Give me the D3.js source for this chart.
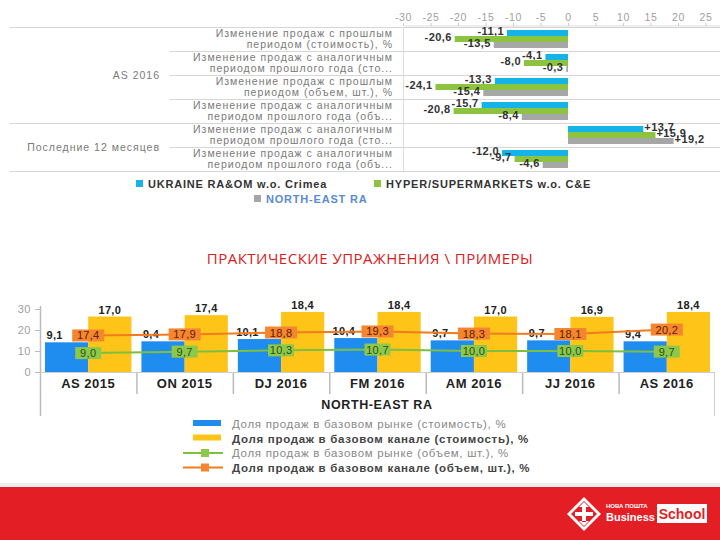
<!DOCTYPE html>
<meta charset="utf-8">
<style>
body { margin: 0; background: #fff; }
svg { font-family: "Liberation Sans", Arial, sans-serif; display: block; }
.rowlab { fill: #7a7a7a; font-size: 10.5px; letter-spacing: 1px; }
.vlab { fill: #333; font-size: 11px; font-weight: bold; letter-spacing: 0.4px; }
.tick text { fill: #a0a0a0; }
</style>
<svg width="720" height="540"></svg>
<script src="https://d3js.org/d3.v7.min.js"></script>
<script>

// top chart data
var rowLabels = [
  ["Изменение продаж с прошлым", "периодом (стоимость), %"],
  ["Изменение продаж с аналогичным", "периодом прошлого года (сто..."],
  ["Изменение продаж с прошлым", "периодом (объем, шт.), %"],
  ["Изменение продаж с аналогичным", "периодом прошлого года (объ..."],
  ["Изменение продаж с аналогичным", "периодом прошлого года (сто..."],
  ["Изменение продаж с аналогичным", "периодом прошлого года (объ..."]
];
var groups = [{name: "AS 2016", from: 0, to: 4}, {name: "Последние 12 месяцев", from: 4, to: 6}];
var ukraine = [-11.1, -4.1, -13.3, -15.7, 13.7, -12.0];
var hyper = [-20.6, -8.0, -24.1, -20.8, 15.9, -9.7];
var northEast = [-13.5, -0.3, -15.4, -8.4, 19.2, -4.6];
var topSeries = ["UKRAINE RA&OM w.o. Crimea", "HYPER/SUPERMARKETS w.o. C&E", "NORTH-EAST RA"];
var topColors = ["#14b4ea", "#8cc43f", "#a6a6a6"];

// bottom chart data
var periods = ["AS 2015", "ON 2015", "DJ 2016", "FM 2016", "AM 2016", "JJ 2016", "AS 2016"];
var marketValue = [9.1, 9.4, 10.1, 10.4, 9.7, 9.7, 9.4];
var channelValue = [17.0, 17.4, 18.4, 18.4, 17.0, 16.9, 18.4];
var marketVolume = [9.0, 9.7, 10.3, 10.7, 10.0, 10.0, 9.7];
var channelVolume = [17.4, 17.9, 18.8, 19.3, 18.3, 18.1, 20.2];
var bottomLegend = [
  "Доля продаж в базовом рынке (стоимость), %",
  "Доля продаж в базовом канале (стоимость), %",
  "Доля продаж в базовом рынке (объем, шт.), %",
  "Доля продаж в базовом канале (объем, шт.), %"
];

var svg = d3.select("svg");
var loc = d3.formatLocale({decimal: ",", thousands: " ", grouping: [3], currency: ["", ""], minus: "-"});
var fmt = loc.format("+.1f");
var fmt1 = loc.format(".1f");

// ---------- top chart ----------
var x = d3.scaleLinear().domain([-30, 25]).range([403, 705.5]);
var y = d3.scaleBand().domain(d3.range(6)).range([27, 171]);
var yIn = d3.scaleBand().domain([0, 1, 2]).range([3, 21]);

var topG = svg.append("g");

topG.append("g")
    .attr("transform", "translate(0,26)")
    .call(d3.axisTop(x).tickValues(d3.range(-30, 26, 5)).tickSize(3).tickFormat(loc.format("d")))
    .call(g => g.select(".domain").attr("stroke", "#ddd").attr("d", "M404,0H720"))
    .call(g => g.selectAll(".tick line").attr("stroke", "#ccc"))
    .call(g => g.selectAll("text").attr("font-size", 10.5).attr("letter-spacing", 0.6).attr("dy", "0.1em"));

// row separators
topG.selectAll(".sep").data(d3.range(7)).enter().append("line")
    .attr("x1", i => (i == 0 || i == 4 || i == 6) ? 10 : 170)
    .attr("x2", 720)
    .attr("y1", i => (i < 6 ? y(i) : y.range()[1]) + 0.5)
    .attr("y2", i => (i < 6 ? y(i) : y.range()[1]) + 0.5)
    .attr("stroke", "#d6d6d6");

topG.append("line").attr("x1", 403.5).attr("x2", 403.5).attr("y1", 27).attr("y2", 171).attr("stroke", "#ddd");

// row labels
var rl = topG.selectAll(".rowlab").data(rowLabels).enter().append("text")
    .attr("class", "rowlab").attr("text-anchor", "end")
    .attr("x", 393).attr("y", (d, i) => y(i) + 10);
rl.append("tspan").attr("x", 393).text(d => d[0]);
rl.append("tspan").attr("x", 393).attr("dy", 11).text(d => d[1]);

// group labels
topG.selectAll(".grp").data(groups).enter().append("text")
    .attr("class", "rowlab").attr("text-anchor", "end").attr("x", 160)
    .attr("y", d => (y(d.from) + y(d.to - 1) + y.bandwidth()) / 2 + 4)
    .text(d => d.name);

var series = [ukraine, hyper, northEast];
series.forEach(function(vals, s) {
  topG.selectAll(".bar" + s).data(vals).enter().append("rect")
      .attr("x", v => x(Math.min(0, v)))
      .attr("width", v => Math.max(1, Math.abs(x(v) - x(0))))
      .attr("y", (v, i) => y(i) + yIn(s))
      .attr("height", yIn.bandwidth())
      .attr("fill", topColors[s]);
  topG.selectAll(".lab" + s).data(vals).enter().append("text")
      .attr("class", "vlab")
      .attr("text-anchor", v => v < 0 ? "end" : "start")
      .attr("x", v => v < 0 ? x(v) - 3 : x(v) + 1)
      .attr("y", (v, i) => y(i) + yIn(s) + yIn.bandwidth() / 2 + 2)
      .text(fmt);
});

// top legend
var tl = [{x: 136, y: 188, i: 0}, {x: 374, y: 188, i: 1}, {x: 254, y: 203, i: 2}];
tl.forEach(function(d) {
  svg.append("rect").attr("x", d.x).attr("y", d.y - 8).attr("width", 7).attr("height", 7).attr("fill", topColors[d.i]);
  svg.append("text").attr("x", d.x + 12).attr("y", d.y)
      .attr("font-size", 11).attr("font-weight", "bold").attr("letter-spacing", 0.8)
      .attr("fill", d.i == 2 ? "#5b8bd0" : "#333")
      .text(topSeries[d.i]);
});

// title
svg.append("text").attr("x", 370).attr("y", 264).attr("text-anchor", "middle")
    .attr("font-size", 15).attr("fill", "#d8201c").attr("letter-spacing", 0.5)
    .attr("font-family", "'Open Sans', sans-serif")
    .text("ПРАКТИЧЕСКИЕ УПРАЖНЕНИЯ \\ ПРИМЕРЫ");

// ---------- bottom chart ----------
var bx = d3.scaleBand().domain(periods).range([40, 715]);
var bIn = d3.scaleBand().domain([0, 1]).range([5, bx.bandwidth() - 5]);
var yl = d3.scaleLinear().domain([0, 30]).range([372, 309]);
var yb = d3.scaleLinear().domain([0, 19.3]).range([372, 309]);

var bot = svg.append("g");

bot.append("g").attr("transform", "translate(40,0)")
    .call(d3.axisLeft(yl).tickValues([0, 10, 20, 30]).tickSize(5).tickPadding(4))
    .call(g => g.select(".domain").remove())
    .call(g => g.selectAll(".tick line").attr("stroke", "#bbb"))
    .call(g => g.selectAll("text").attr("font-size", 11).attr("letter-spacing", 0.5));

bot.append("line").attr("x1", 40.5).attr("x2", 40.5).attr("y1", 306).attr("y2", 416).attr("stroke", "#bbb").attr("stroke-width", 1.5);
bot.append("line").attr("x1", 714.5).attr("x2", 714.5).attr("y1", 372).attr("y2", 416).attr("stroke", "#ccc");
bot.append("line").attr("x1", 40).attr("x2", 715).attr("y1", 372.5).attr("y2", 372.5).attr("stroke", "#ccc");
bot.selectAll(".csep").data(periods.slice(1)).enter().append("line")
    .attr("x1", d => bx(d) + 0.5).attr("x2", d => bx(d) + 0.5)
    .attr("y1", 373).attr("y2", 394).attr("stroke", "#bbb").attr("stroke-width", 1.5);

bot.selectAll(".clab").data(periods).enter().append("text")
    .attr("x", d => bx(d) + bx.bandwidth() / 2).attr("y", 388)
    .attr("text-anchor", "middle").attr("font-size", 13).attr("font-weight", "bold")
    .attr("letter-spacing", 0.5).attr("fill", "#222")
    .text(d => d);
bot.append("text").attr("x", 377).attr("y", 409).attr("text-anchor", "middle")
    .attr("font-size", 12.5).attr("font-weight", "bold").attr("letter-spacing", 0.6)
    .attr("fill", "#222").text("NORTH-EAST RA");

var barColors = ["#1f8def", "#fec418"];
[marketValue, channelValue].forEach(function(vals, s) {
  bot.selectAll(".bb" + s).data(vals).enter().append("rect")
      .attr("x", (v, i) => bx(periods[i]) + bIn(s))
      .attr("width", bIn.bandwidth())
      .attr("y", v => yb(v))
      .attr("height", v => 372 - yb(v))
      .attr("fill", barColors[s]);
  bot.selectAll(".bl" + s).data(vals).enter().append("text")
      .attr("x", (v, i) => bx(periods[i]) + bIn(s) + bIn.bandwidth() / 2 - (s == 0 ? 12 : 0))
      .attr("y", v => yb(v) - 3)
      .attr("text-anchor", "middle").attr("font-size", 11).attr("font-weight", "bold")
      .attr("letter-spacing", 0.3).attr("fill", "#222")
      .text(fmt1);
});

var lineColors = ["#7dbf3f", "#f47a20"];
var boxColors = ["#8cc84a", "#f5852e"];
var boxW = [26, 32];
[marketVolume, channelVolume].forEach(function(vals, s) {
  var cx = (v, i) => bx(periods[i]) + bx.bandwidth() / 2;
  bot.append("path").datum(vals)
      .attr("fill", "none").attr("stroke", lineColors[s]).attr("stroke-width", 2)
      .attr("d", d3.line().x(cx).y(v => yl(v)));
  var lb = bot.selectAll(".lb" + s).data(vals).enter().append("g")
      .attr("transform", (v, i) => "translate(" + cx(v, i) + "," + yl(v) + ")");
  lb.append("rect").attr("x", -boxW[s] / 2).attr("y", -6).attr("width", boxW[s]).attr("height", 12).attr("fill", boxColors[s]);
  lb.append("text").attr("y", 4).attr("text-anchor", "middle").attr("font-size", 11).attr("letter-spacing", 0.3)
      .attr("fill", s == 0 ? "#2f4f1a" : "#5a2200").text(fmt1);
});

// bottom legend
var leg = svg.append("g");
bottomLegend.forEach(function(t, i) {
  var ly = 424 + i * 14.5;
  if (i < 2) {
    leg.append("rect").attr("x", 193).attr("y", ly - 4).attr("width", 28).attr("height", 6).attr("fill", barColors[i]);
  } else {
    leg.append("line").attr("x1", 183).attr("x2", 223).attr("y1", ly).attr("y2", ly).attr("stroke", lineColors[i - 2]).attr("stroke-width", 2);
    leg.append("rect").attr("x", 201).attr("y", ly - 4).attr("width", 8).attr("height", 8).attr("fill", boxColors[i - 2]);
  }
  leg.append("text").attr("x", 232).attr("y", ly + 4)
      .attr("font-size", 11.5).attr("letter-spacing", 0.7)
      .attr("font-weight", i % 2 ? "bold" : "normal")
      .attr("fill", i % 2 ? "#444" : "#888").text(t);
});

// footer
svg.append("rect").attr("x", 0).attr("y", 483).attr("width", 720).attr("height", 4).attr("fill", "#ececec");
svg.append("rect").attr("x", 0).attr("y", 487).attr("width", 720).attr("height", 53).attr("fill", "#e31e24");
var logo = svg.append("g").attr("transform", "translate(584,514)");
logo.append("path").attr("d", "M0,-17L17,0L0,17L-17,0Z").attr("fill", "#fff");
logo.append("path").attr("d", "M0,-13L13,0L0,13L-13,0Z").attr("fill", "#e31e24");
logo.append("path").attr("d", "M-2,-8L2,-8L2,8L-2,8Z M-9,-2L9,-2L9,2L-9,2Z M0,-12L5,-7L-5,-7Z M0,12L5,7L-5,7Z").attr("fill", "#fff");
logo.append("text").attr("x", 22).attr("y", -6)
    .attr("font-size", 6).attr("font-weight", "bold").attr("fill", "#fff").text("НОВА ПОШТА");
logo.append("text").attr("x", 22).attr("y", 7).attr("font-size", 11).attr("font-weight", "bold").attr("fill", "#fff").text("Business");
logo.append("rect").attr("x", 73).attr("y", -10).attr("width", 50).attr("height", 19).attr("fill", "#fff");
logo.append("text").attr("x", 98).attr("y", 5).attr("text-anchor", "middle").attr("font-size", 14).attr("font-weight", "bold").attr("fill", "#e31e24").text("School");

</script>
